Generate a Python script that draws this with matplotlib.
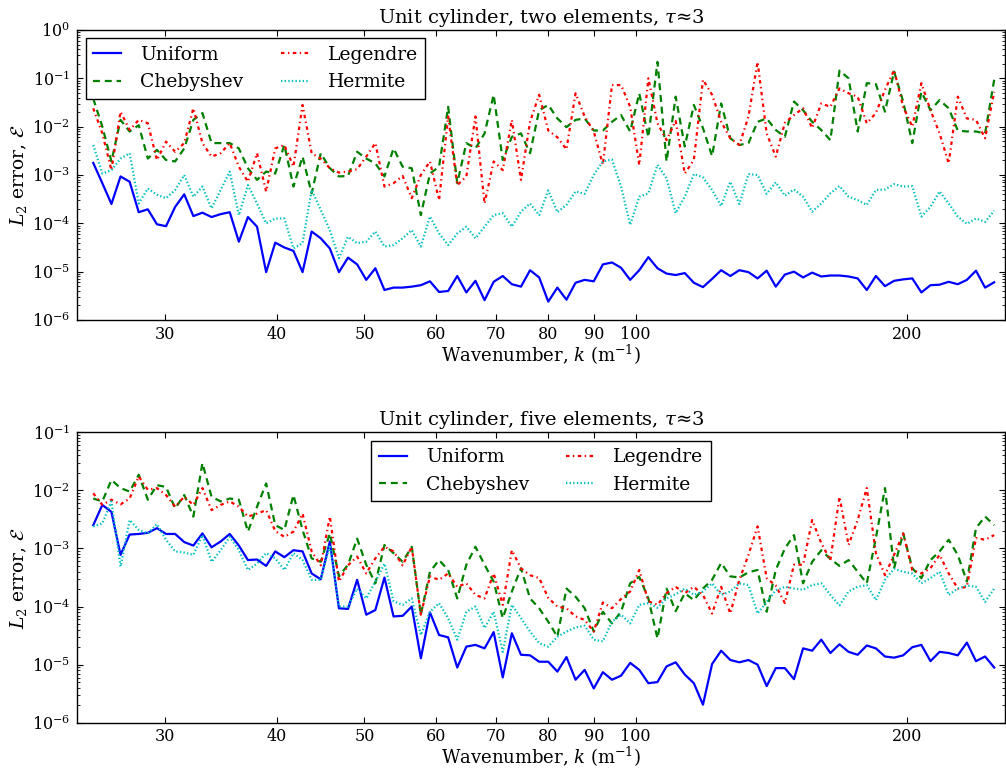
import numpy as np
import matplotlib
matplotlib.use("Agg")
import matplotlib.pyplot as plt
from matplotlib.ticker import FixedLocator, NullLocator, FixedFormatter

# Wavenumber samples: 100 log-spaced points between 25 and 250 m^-1
wavenumber = np.geomspace(25.0, 250.0, 100)

# log10 of the L2 error -- top panel (two elements)
top_uniform = [
    -2.75, -3.17, -3.60, -3.03, -3.14, -3.77, -3.71, -4.02, -4.06, -3.66,
    -3.40, -3.85, -3.78, -3.87, -3.81, -3.77, -4.38, -3.87, -4.07, -5.01,
    -4.40, -4.50, -4.57, -5.01, -4.17, -4.31, -4.52, -5.01, -4.71, -4.85,
    -5.17, -4.93, -5.38, -5.33, -5.33, -5.31, -5.28, -5.20, -5.42, -5.40,
    -5.09, -5.43, -5.19, -5.59, -5.21, -5.09, -5.26, -5.31, -4.97, -5.12,
    -5.62, -5.33, -5.58, -5.23, -5.17, -5.20, -4.85, -4.81, -4.92, -5.17,
    -4.97, -4.70, -4.93, -5.04, -5.07, -5.03, -5.23, -5.32, -5.15, -4.97,
    -5.09, -4.97, -5.01, -5.14, -4.98, -5.31, -5.06, -5.00, -5.12, -5.02,
    -5.10, -5.08, -5.08, -5.10, -5.14, -5.38, -5.09, -5.30, -5.19, -5.16,
    -5.14, -5.43, -5.28, -5.27, -5.21, -5.26, -5.17, -4.98, -5.33, -5.22,
]
top_chebyshev = [
    -1.42, -2.00, -2.72, -1.86, -2.10, -1.97, -2.66, -2.48, -2.69, -2.72,
    -2.45, -1.86, -1.72, -2.34, -2.34, -2.34, -2.45, -2.86, -3.10, -2.93,
    -2.97, -2.38, -3.24, -2.62, -3.38, -2.55, -2.86, -3.03, -3.02, -2.52,
    -2.66, -2.76, -3.03, -2.45, -2.83, -2.86, -3.83, -2.97, -2.83, -1.59,
    -3.17, -2.34, -2.45, -2.14, -1.34, -2.69, -2.21, -2.14, -2.55, -1.66,
    -1.55, -1.83, -2.01, -1.86, -1.83, -2.08, -2.08, -1.90, -1.76, -2.10,
    -1.31, -2.22, -0.66, -2.72, -1.38, -2.41, -1.55, -2.03, -2.61, -1.52,
    -2.24, -2.38, -2.34, -1.90, -1.83, -2.07, -2.21, -1.48, -1.66, -1.90,
    -2.07, -2.28, -0.84, -1.00, -2.10, -1.10, -1.12, -1.69, -0.86, -1.48,
    -2.34, -1.28, -1.66, -1.45, -1.62, -2.08, -2.10, -2.10, -2.14, -1.03,
]
top_legendre = [
    -1.62, -2.14, -2.90, -1.69, -2.07, -1.86, -1.93, -2.69, -2.31, -2.52,
    -2.34, -1.62, -2.34, -2.62, -2.55, -2.34, -2.83, -3.14, -2.55, -3.34,
    -2.45, -2.38, -2.83, -1.55, -2.55, -2.66, -2.86, -2.95, -2.93, -2.88,
    -2.62, -2.34, -3.24, -3.17, -3.02, -3.48, -3.00, -2.72, -3.52, -1.79,
    -3.21, -3.03, -1.79, -3.59, -2.72, -2.90, -1.86, -3.10, -1.90, -1.34,
    -2.08, -2.22, -2.47, -1.31, -1.79, -2.10, -2.79, -1.14, -1.14, -1.59,
    -2.79, -1.00, -1.93, -2.28, -1.88, -2.97, -2.69, -1.03, -1.34, -1.90,
    -2.24, -2.38, -1.79, -0.66, -2.14, -2.62, -1.92, -1.76, -1.62, -2.03,
    -1.52, -1.59, -1.21, -1.31, -1.38, -1.93, -1.72, -1.24, -0.83, -1.59,
    -2.00, -1.10, -1.66, -2.14, -2.76, -1.38, -1.83, -1.86, -2.24, -1.28,
]
top_hermite = [
    -2.38, -2.97, -2.90, -2.66, -2.55, -3.59, -3.28, -3.41, -3.48, -3.31,
    -3.00, -3.45, -3.24, -3.69, -3.31, -2.93, -3.83, -3.21, -3.59, -4.00,
    -3.90, -3.90, -4.52, -4.41, -3.31, -3.72, -4.14, -4.72, -4.28, -4.41,
    -4.38, -4.17, -4.48, -4.45, -4.31, -4.14, -4.48, -3.86, -4.21, -4.45,
    -4.21, -4.07, -4.31, -4.07, -3.83, -3.79, -4.07, -3.76, -3.59, -3.83,
    -3.32, -3.77, -3.62, -3.34, -3.39, -3.00, -2.72, -2.68, -3.24, -4.03,
    -3.45, -3.38, -2.79, -3.07, -3.79, -3.45, -2.98, -3.05, -3.31, -3.64,
    -3.14, -3.60, -2.98, -3.00, -3.39, -3.15, -3.43, -3.30, -3.45, -3.76,
    -3.59, -3.38, -3.23, -3.45, -3.52, -3.62, -3.31, -3.30, -3.19, -3.24,
    -3.23, -3.86, -3.66, -3.34, -3.59, -3.86, -4.01, -3.90, -3.97, -3.74,
]

# bottom panel (five elements)
bot_uniform = [
    -2.60, -2.25, -2.37, -3.11, -2.76, -2.75, -2.73, -2.65, -2.75, -2.75,
    -2.89, -2.95, -2.74, -2.98, -2.88, -2.75, -2.95, -3.20, -3.19, -3.30,
    -3.05, -3.15, -3.03, -3.05, -3.43, -3.53, -2.88, -4.03, -4.04, -3.54,
    -4.14, -4.06, -3.50, -4.17, -4.16, -4.00, -4.89, -4.10, -4.49, -4.53,
    -5.05, -4.69, -4.66, -4.72, -4.44, -5.22, -4.46, -4.83, -4.84, -4.95,
    -4.95, -5.12, -4.87, -5.26, -5.09, -5.41, -5.13, -5.26, -5.19, -4.97,
    -5.09, -5.32, -5.30, -5.03, -4.96, -5.17, -5.32, -5.69, -4.99, -4.76,
    -4.92, -4.96, -4.92, -5.00, -5.37, -5.06, -5.06, -5.25, -4.72, -4.76,
    -4.57, -4.80, -4.65, -4.78, -4.83, -4.67, -4.72, -4.86, -4.88, -4.84,
    -4.70, -4.66, -4.94, -4.78, -4.80, -4.84, -4.62, -4.94, -4.86, -5.05,
]
bot_chebyshev = [
    -2.14, -2.19, -1.82, -1.96, -2.02, -1.73, -2.16, -1.91, -1.94, -2.31,
    -2.08, -2.45, -1.53, -2.11, -2.19, -2.14, -2.16, -2.71, -2.28, -1.88,
    -2.60, -2.68, -2.08, -2.68, -3.17, -3.23, -2.74, -3.48, -3.28, -2.83,
    -3.28, -3.60, -2.94, -3.08, -3.23, -2.97, -4.14, -3.40, -3.20, -3.37,
    -3.86, -3.28, -2.97, -3.28, -3.57, -4.20, -3.74, -3.34, -3.86, -4.03,
    -4.26, -4.52, -3.69, -3.83, -4.03, -4.43, -4.09, -4.29, -4.09, -3.60,
    -3.49, -3.86, -4.55, -3.69, -4.08, -3.77, -3.89, -3.69, -3.54, -3.25,
    -3.48, -3.50, -3.41, -3.37, -4.09, -3.37, -3.00, -2.77, -3.60, -3.23,
    -3.03, -3.18, -3.30, -3.20, -3.40, -3.60, -2.82, -1.96, -3.34, -2.74,
    -3.34, -3.51, -3.20, -3.05, -2.85, -3.11, -3.57, -2.65, -2.45, -2.60,
]
bot_legendre = [
    -2.05, -2.25, -2.16, -2.24, -2.14, -1.76, -1.99, -1.96, -2.08, -2.28,
    -2.11, -2.25, -1.96, -2.34, -2.25, -2.19, -2.28, -2.45, -2.40, -2.34,
    -2.70, -2.80, -2.71, -2.40, -3.05, -3.29, -2.45, -3.57, -3.29, -3.14,
    -3.43, -3.17, -2.97, -3.05, -3.29, -2.97, -4.14, -3.48, -3.54, -3.43,
    -3.66, -3.60, -3.80, -3.86, -3.43, -3.97, -3.03, -3.34, -3.46, -3.51,
    -3.85, -4.00, -4.03, -4.17, -4.23, -4.43, -3.93, -4.03, -3.87, -3.74,
    -3.37, -3.91, -3.97, -3.77, -3.66, -3.77, -3.66, -3.80, -4.12, -3.66,
    -4.12, -3.54, -3.11, -2.62, -3.51, -3.64, -3.94, -3.28, -3.28, -2.51,
    -2.91, -3.20, -2.11, -2.94, -2.51, -1.96, -3.08, -3.46, -3.11, -2.74,
    -3.37, -3.43, -3.34, -3.11, -3.43, -3.69, -3.66, -2.82, -2.85, -2.77,
]
bot_hermite = [
    -2.62, -2.57, -2.19, -3.31, -2.51, -2.68, -2.74, -2.58, -2.85, -3.05,
    -3.07, -3.11, -2.77, -3.23, -3.03, -2.80, -3.03, -3.37, -3.26, -3.08,
    -3.17, -3.37, -3.08, -3.20, -3.54, -3.54, -2.94, -4.00, -4.00, -3.69,
    -3.86, -3.57, -3.26, -3.91, -3.97, -3.86, -4.49, -4.09, -3.94, -4.20,
    -4.57, -4.09, -4.00, -4.37, -4.09, -4.78, -3.97, -4.20, -4.43, -4.63,
    -4.69, -4.52, -4.43, -4.36, -4.33, -4.57, -4.60, -4.26, -4.14, -4.29,
    -3.97, -3.94, -4.02, -3.86, -3.79, -3.69, -3.80, -3.74, -3.60, -3.80,
    -3.74, -3.60, -3.63, -4.12, -3.92, -3.72, -3.66, -3.69, -3.71, -3.63,
    -3.60, -3.80, -3.98, -3.74, -3.66, -3.63, -3.89, -3.54, -3.35, -3.40,
    -3.43, -3.60, -3.51, -3.40, -3.80, -3.69, -3.64, -3.66, -3.92, -3.69,
]

series_labels = ["Uniform", "Chebyshev", "Legendre", "Hermite"]
titles = [r"Unit cylinder, two elements, $\tau$≈3",
          r"Unit cylinder, five elements, $\tau$≈3"]
x_ticks = [30, 40, 50, 60, 70, 80, 90, 100, 200]

plt.rcParams.update({
    "font.family": "DejaVu Serif",
    "mathtext.fontset": "dejavuserif",
    "xtick.direction": "in",
    "ytick.direction": "in",
    "xtick.top": True,
    "ytick.right": True,
    "xtick.major.size": 4.5,
    "ytick.major.size": 4.5,
    "xtick.minor.size": 2.2,
    "ytick.minor.size": 2.2,
    "xtick.major.pad": 4,
    "ytick.major.pad": 5,
    "axes.linewidth": 1.0,
    "lines.scale_dashes": False,
})

styles = [
    dict(color=(0, 0, 1), linestyle="-"),
    dict(color=(0, 0.5, 0), linestyle=(0, (5, 3.5))),
    dict(color=(1, 0, 0), linestyle=(0, (2.5, 2.5, 1, 2.5))),
    dict(color=(0, 0.75, 0.75), linestyle=(0, (1, 1.6))),
]

fig = plt.figure(figsize=(10.06, 7.69), dpi=100)
ax_top = fig.add_axes([0.0768, 0.5839, 0.9222, 0.3771])
ax_bot = fig.add_axes([0.0768, 0.0602, 0.9222, 0.3776])

panels = [
    (ax_top, [top_uniform, top_chebyshev, top_legendre, top_hermite],
     (1e-6, 1e0), "upper left"),
    (ax_bot, [bot_uniform, bot_chebyshev, bot_legendre, bot_hermite],
     (1e-6, 1e-1), "upper center"),
]

for (ax, data, ylim, loc), title in zip(panels, titles):
    for vals, label, st in zip(data, series_labels, styles):
        ax.plot(wavenumber, 10.0 ** np.asarray(vals), linewidth=1.6,
                label=label, **st)
    ax.set_xscale("log")
    ax.set_yscale("log")
    ax.set_xlim(24, 257)
    ax.set_ylim(*ylim)
    ax.xaxis.set_major_locator(FixedLocator(x_ticks))
    ax.xaxis.set_major_formatter(FixedFormatter([str(t) for t in x_ticks]))
    ax.xaxis.set_minor_locator(NullLocator())
    ax.tick_params(labelsize=11.5)
    ax.set_title(title, fontsize=14, pad=5)
    ax.set_xlabel(r"Wavenumber, $k$ (m$^{-1}$)", fontsize=13, labelpad=0)
    ax.set_ylabel(r"$L_2$ error, $\mathcal{E}$", fontsize=13.5, labelpad=2)
    leg = ax.legend(loc=loc, ncol=2, fontsize=13.5, fancybox=False,
                    framealpha=1, edgecolor="black", handlelength=1.5,
                    handletextpad=1.0, columnspacing=2.0, borderaxespad=0.45)
    leg.get_frame().set_linewidth(1.0)

fig.savefig("out.png", dpi=100)
